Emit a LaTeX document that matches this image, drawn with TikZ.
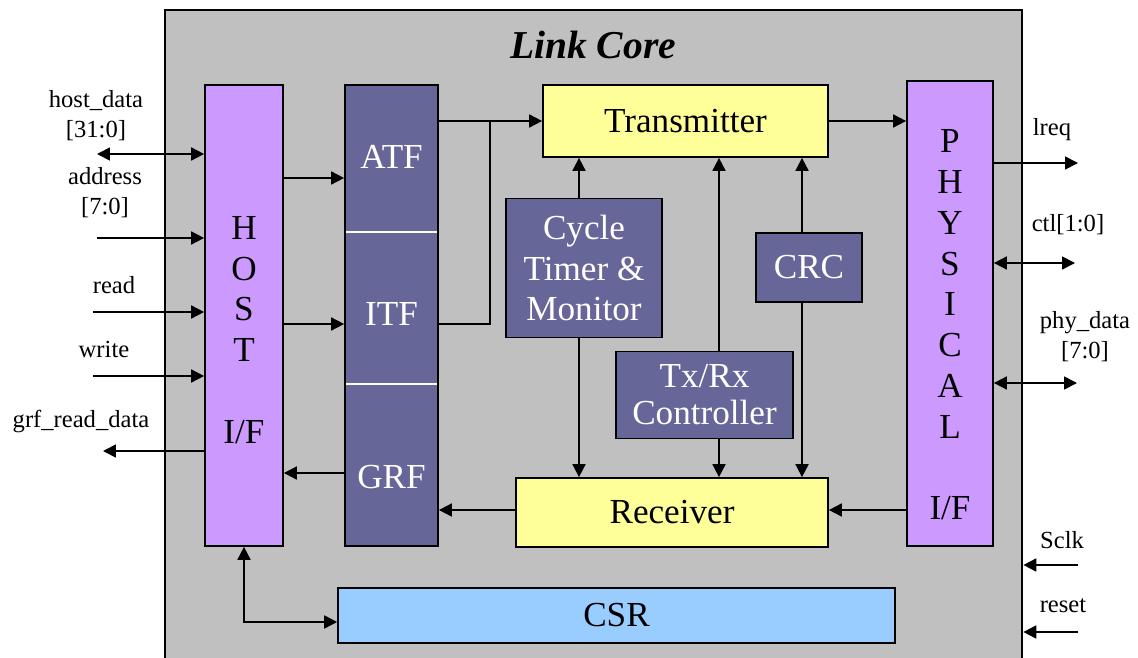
\documentclass[tikz,border=0pt]{standalone}
\usepackage{fontspec}
\setmainfont{Liberation Serif}
\usetikzlibrary{arrows.meta}

\definecolor{coregray}{HTML}{C0C0C0}
\definecolor{lilac}{HTML}{CC99FF}
\definecolor{slate}{HTML}{666699}
\definecolor{paleyellow}{HTML}{FFFF99}
\definecolor{skyblue}{HTML}{99CCFF}

\newcommand{\blkfont}{\fontsize{20}{23.2}\selectfont}
\newcommand{\pinfont}{\fontsize{14}{17}\selectfont}

\tikzset{
  blk/.style={draw, line width=1pt, inner sep=0pt},
  ifbox/.style={blk, fill=lilac},
  fifobox/.style={blk, fill=slate},
  ctlbox/.style={blk, fill=slate, text=white, align=center, font=\blkfont},
  pathbox/.style={blk, fill=paleyellow, font=\blkfont},
  blktext/.style={font=\blkfont, align=center},
  pin/.style={font=\pinfont, align=center},
  sig/.style={line width=1pt, -{Triangle[length=2.6mm,width=2.6mm]}},
  bus/.style={line width=1pt, {Triangle[length=2.6mm,width=2.6mm]}-{Triangle[length=2.6mm,width=2.6mm]}},
}

\begin{document}
\begin{tikzpicture}[x=0.02cm, y=-0.02cm]
    \useasboundingbox (0,0) rectangle (1138,658);
    \clip (0,0) rectangle (1138,658);

    % link core frame
    \node[draw, line width=1.6pt, fill=coregray, inner sep=0pt, minimum width=17.14cm, minimum height=13.8cm] (core) at (593.5,355) {};
    \node[font=\fontsize{22.5}{27}\selectfont\bfseries\itshape] (title) at (593,45) {Link Core};

    % interfaces
    \node[ifbox, minimum width=1.56cm, minimum height=9.22cm] (host) at (244,315.5) {};
    \node[blktext] (hostlbl) at (244,330) {H\\O\\S\\T\\[23.2pt]I/F};
    \node[ifbox, minimum width=1.72cm, minimum height=9.3cm] (phy) at (950,313.5) {};
    \node[blktext] (phylbl) at (950,325) {P\\H\\Y\\S\\I\\C\\A\\L\\[23.2pt]I/F};

    % fifos
    \node[fifobox, minimum width=1.86cm, minimum height=9.22cm] (fifo) at (391.5,315.5) {};
    \draw[white, line width=1pt] (346,232) -- (437,232);
    \draw[white, line width=1pt] (346,384) -- (437,384);
    \node[blktext, text=white] (atf) at (391.5,157) {ATF};
    \node[blktext, text=white] (itf) at (391.5,314) {ITF};
    \node[blktext, text=white] (grf) at (391.5,477) {GRF};

    % datapath and control
    \node[pathbox, minimum width=5.7cm, minimum height=1.44cm] (tx) at (685.5,121) {Transmitter};
    \node[pathbox, minimum width=6.24cm, minimum height=1.38cm] (rx) at (672,512.5) {Receiver};
    \node[ctlbox, minimum width=3.12cm, minimum height=2.78cm] (ctm) at (584,268) {Cycle\\Timer \&\\Monitor};
    \node[ctlbox, minimum width=2.12cm, minimum height=1.38cm] (crc) at (809,267.5) {CRC};
    \node[ctlbox, minimum width=3.54cm, minimum height=1.74cm, font=\fontsize{20}{21}\selectfont] (txrx) at (704.5,395) {Tx/Rx\\Controller};
    \node[blk, fill=skyblue, font=\blkfont, minimum width=11.14cm, minimum height=1.1cm] (csr) at (616.5,615.5) {CSR};

    % internal connections
    \coordinate (join) at (490,121);
    \draw[sig] (fifo.east |- tx) -- (tx.west);
    \draw[line width=1pt] (fifo.east |- 0,324) -| (join);
    \draw[sig] (tx.east) -- (tx.east -| phy.west);
    \draw[sig] ([xshift=-0.1cm]ctm.north) -- ([xshift=-0.1cm]ctm.north |- tx.south);
    \draw[sig] ([xshift=-0.1cm]ctm.south) -- ([xshift=-0.1cm]ctm.south |- rx.north);
    \draw[sig] ([xshift=0.29cm]txrx.north) -- ([xshift=0.29cm]txrx.north |- tx.south);
    \draw[sig] ([xshift=0.29cm]txrx.south) -- ([xshift=0.29cm]txrx.south |- rx.north);
    \draw[sig] ([xshift=-0.14cm]crc.north) -- ([xshift=-0.14cm]crc.north |- tx.south);
    \draw[sig] ([xshift=-0.14cm]crc.south) -- ([xshift=-0.14cm]crc.south |- rx.north);
    \draw[sig] (phy.west |- 0,510) -- (rx.east |- 0,510);
    \draw[sig] (rx.west |- 0,510) -- (fifo.east |- 0,510);
    \draw[sig] (host.east |- 0,178) -- (fifo.west |- 0,178);
    \draw[sig] (host.east |- 0,324) -- (fifo.west |- 0,324);
    \draw[sig] (fifo.west |- 0,473) -- (host.east |- 0,473);
    \draw[bus] (host.south) |- (csr.west |- 0,622);

    % host side pins
    \coordinate (hostdata) at (97,154);
    \coordinate (address) at (97,238);
    \coordinate (read) at (93,312);
    \coordinate (write) at (93,376);
    \coordinate (grfread) at (103,451);
    \draw[bus] (hostdata) -- (hostdata -| host.west);
    \draw[sig] (address) -- (address -| host.west);
    \draw[sig] (read) -- (read -| host.west);
    \draw[sig] (write) -- (write -| host.west);
    \draw[sig] (grfread -| host.west) -- (grfread);
    \node[pin] (hostdatalbl) at (96,116) {host\_data\\{[31:0]}};
    \node[pin] (addresslbl) at (105,193) {address\\{[7:0]}};
    \node[pin] (readlbl) at (114,285) {read};
    \node[pin] (writelbl) at (104,349) {write};
    \node[pin] (grfreadlbl) at (81,421) {grf\_read\_data};

    % phy side pins
    \coordinate (lreq) at (1078,163);
    \coordinate (ctl) at (1075,263);
    \coordinate (phydata) at (1077,383);
    \coordinate (sclk) at (1078,565);
    \coordinate (reset) at (1078,632);
    \draw[sig] (lreq -| phy.east) -- (lreq);
    \draw[bus] (ctl -| phy.east) -- (ctl);
    \draw[bus] (phydata -| phy.east) -- (phydata);
    \draw[sig] (sclk) -- (sclk -| core.east);
    \draw[sig] (reset) -- (reset -| core.east);
    \node[pin] (lreqlbl) at (1052,130) {lreq};
    \node[pin] (ctllbl) at (1068,225) {ctl[1:0]};
    \node[pin] (phydatalbl) at (1085,337) {phy\_data\\{[7:0]}};
    \node[pin] (sclklbl) at (1062,540) {Sclk};
    \node[pin] (resetlbl) at (1063,606) {reset};
\end{tikzpicture}
\end{document}
